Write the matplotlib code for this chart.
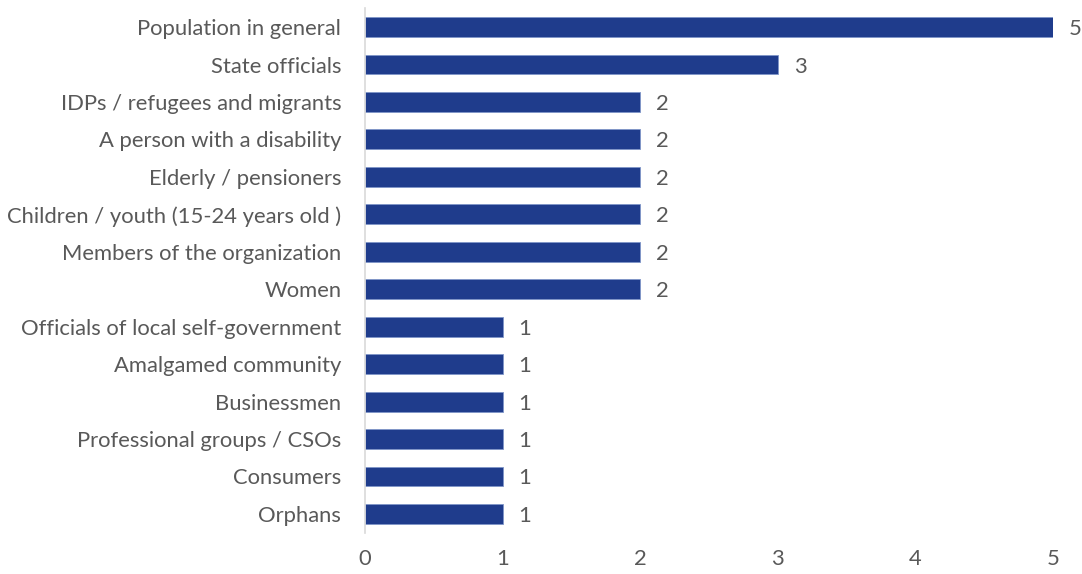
import matplotlib
matplotlib.use("Agg")
import matplotlib.pyplot as plt

categories = [
    "Population in general",
    "State officials",
    "IDPs / refugees and migrants",
    "A person with a disability",
    "Elderly / pensioners",
    "Children / youth (15-24 years old )",
    "Members of the organization",
    "Women",
    "Officials of local self-government",
    "Amalgamed community",
    "Businessmen",
    "Professional groups / CSOs",
    "Consumers",
    "Orphans",
]
values = [5, 3, 2, 2, 2, 2, 2, 2, 1, 1, 1, 1, 1, 1]
xticks = [0, 1, 2, 3, 4, 5]

plt.rcParams["font.family"] = ["Lato", "DejaVu Sans"]
grey = "#595959"
bar_color = "#1F3C8C"
fs = 15.8

fig = plt.figure(figsize=(10.82, 5.74), dpi=100)
ax = fig.add_axes([0.3373, 0.072, 0.6359, 0.9135])

ypos = list(range(len(categories)))
ax.barh(ypos, values, height=0.53, color=bar_color, edgecolor="#7F95C8", linewidth=0.6)
for y, v in zip(ypos, values):
    ax.text(v + 0.115, y, str(v), va="center_baseline", ha="left", fontsize=fs, color=grey)

ax.set_ylim(len(categories) - 0.5, -0.5)
ax.set_xlim(0, 5)
ax.set_yticks(ypos)
ax.set_yticklabels(categories, fontsize=fs, color=grey, va="center_baseline")
ax.set_xticks(xticks)
ax.set_xticklabels([str(t) for t in xticks], fontsize=fs, color=grey)
ax.tick_params(length=0)
ax.tick_params(axis="y", pad=17)
ax.tick_params(axis="x", pad=12)

for s in ["top", "right", "bottom"]:
    ax.spines[s].set_visible(False)
ax.spines["left"].set_color("#D9D9D9")
ax.spines["left"].set_linewidth(1.2)

fig.savefig("out.png", dpi=100)
